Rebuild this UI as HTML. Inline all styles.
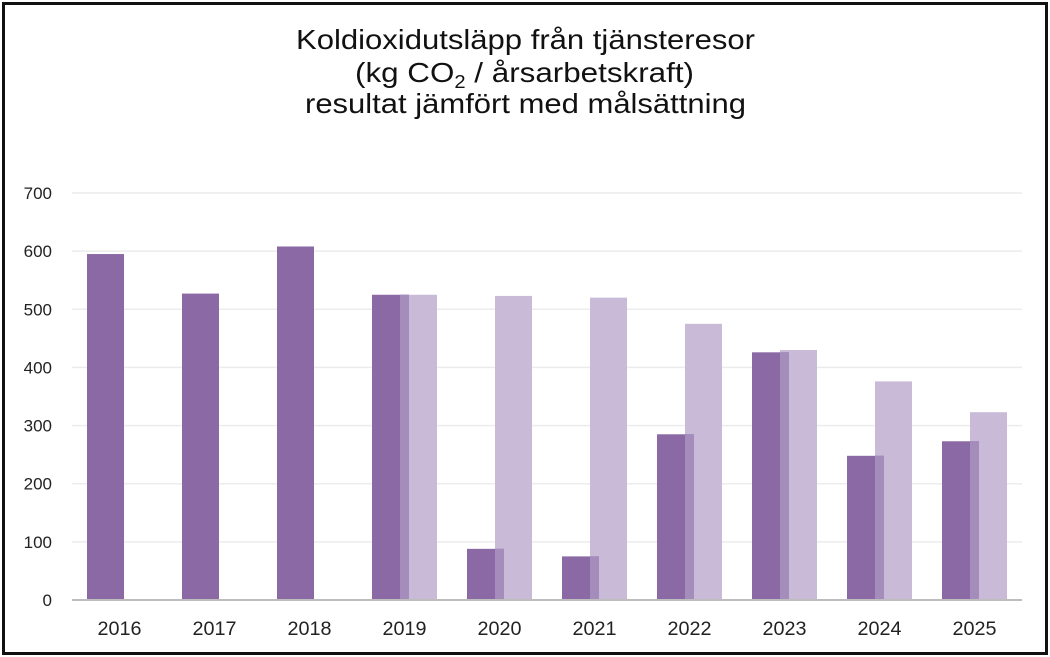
<!DOCTYPE html>
<html><head><meta charset="utf-8"><style>
html,body{margin:0;padding:0;background:#fff;}
svg{display:block;}
text{font-family:"Liberation Sans",sans-serif;}
</style></head><body>
<svg id="s" width="1050" height="657" viewBox="0 0 1050 657" xmlns="http://www.w3.org/2000/svg">
<rect x="0" y="0" width="1050" height="657" fill="#fff"/>
<rect x="3.5" y="3.5" width="1043" height="650" fill="none" stroke="#111" stroke-width="3"/>
<text x="296" y="49" font-size="28" textLength="459" lengthAdjust="spacingAndGlyphs" fill="#111">Koldioxidutsläpp från tjänsteresor</text>
<text x="355" y="82" font-size="28" fill="#111" textLength="339" lengthAdjust="spacingAndGlyphs">(kg CO<tspan font-size="18" dy="6">2</tspan><tspan dy="-6"> / årsarbetskraft)</tspan></text>
<text x="305" y="113" font-size="28" textLength="441" lengthAdjust="spacingAndGlyphs" fill="#111">resultat jämfört med målsättning</text>
<g id="g"></g>
</svg>
<script>
var g=document.getElementById('g'),h='';
var y0=600,k=407/700;
for(var v=0;v<=700;v+=100){var y=y0-v*k;
 if(v>0)h+='<line x1="72" x2="1022" y1="'+y+'" y2="'+y+'" stroke="#ececec" stroke-width="1.5"/>';
 h+='<text x="52" y="'+(y+6)+'" font-size="17" text-anchor="end" fill="#222">'+v+'</text>';}
var d=[595,527,608,525,88,75,285,426,248,273],m=[null,null,null,525,523,520,475,430,376,323];
for(var i=0;i<10;i++){var c=72+95*i+47.5,dl=c-32.5,ll=c-4.5,w=37;
 if(m[i]!=null){h+='<rect x="'+ll+'" y="'+(y0-m[i]*k)+'" width="'+w+'" height="'+(m[i]*k)+'" fill="#c9bbd8"/>';}
 h+='<rect x="'+dl+'" y="'+(y0-d[i]*k)+'" width="'+w+'" height="'+(d[i]*k)+'" fill="#8a69a4"/>';
 if(m[i]!=null){var mn=Math.min(d[i],m[i]);h+='<rect x="'+ll+'" y="'+(y0-mn*k)+'" width="'+(dl+w-ll)+'" height="'+(mn*k)+'" fill="#a48cbb"/>';}
 h+='<text x="'+(c-22)+'" y="635" font-size="19" textLength="44" lengthAdjust="spacingAndGlyphs" fill="#222">'+(2016+i)+'</text>';}
h+='<line x1="72" x2="1022" y1="600" y2="600" stroke="#bdbdbd" stroke-width="2"/>';
g.innerHTML=h;
</script>
</body></html>
